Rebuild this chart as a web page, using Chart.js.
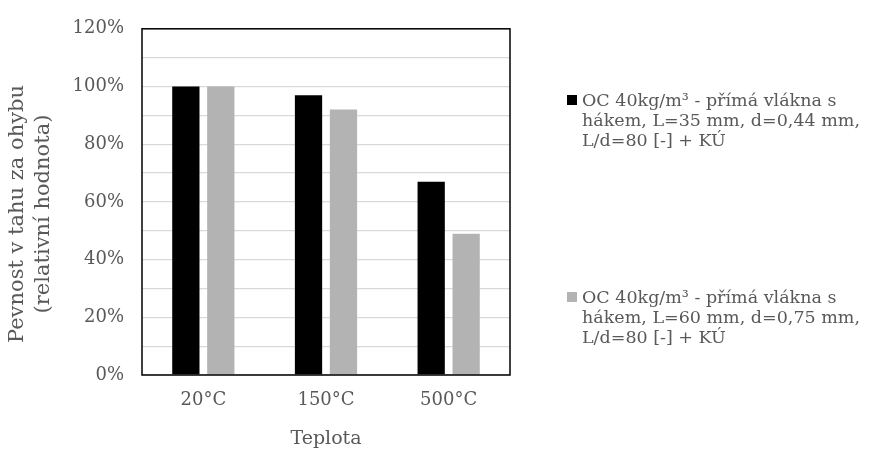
<!DOCTYPE html>
<html>
<head>
<meta charset="utf-8">
<script src="https://cdn.jsdelivr.net/npm/chart.js@4"></script>
<style>
  html, body { margin: 0; padding: 0; background: #fff; }
  #wrap { position: relative; width: 893px; height: 456px; }
  #legend { position: absolute; left: 566px; top: 0; font-family: "DejaVu Serif", serif; font-size: 17.5px; color: #595959; line-height: 20px; }
  .leg-item { position: absolute; left: 0; width: 327px; padding-left: 16px; white-space: nowrap; }
  .leg-box { position: absolute; left: 1px; top: 5px; width: 10px; height: 10px; }
</style>
</head>
<body>
<div id="wrap">
  <canvas id="chart" width="893" height="456"></canvas>
  <div id="legend"></div>
</div>
<script>
// Relative flexural tensile strength after heating
const temps = ['20°C', '150°C', '500°C'];
const fiber35 = [100, 97, 67];
const fiber60 = [100, 92, 49];
const seriesNames = [
  'OC 40kg/m³ - přímá vlákna s hákem, L=35 mm, d=0,44 mm, L/d=80 [-] + KÚ',
  'OC 40kg/m³ - přímá vlákna s hákem, L=60 mm, d=0,75 mm, L/d=80 [-] + KÚ'
];
const legendLines = [
  ['OC 40kg/m³ - přímá vlákna s', 'hákem, L=35 mm, d=0,44 mm,', 'L/d=80 [-] + KÚ'],
  ['OC 40kg/m³ - přímá vlákna s', 'hákem, L=60 mm, d=0,75 mm,', 'L/d=80 [-] + KÚ']
];
const yTitle = ['Pevnost v tahu za ohybu', '(relativní hodnota)'];
const legendTops = [90, 287];
const colors = ['#000000', '#b3b3b3'];

const FONT = '"DejaVu Serif", serif';
const TXT = '#595959';

// plot frame on all four sides
const frame = {
  id: 'frame',
  afterDatasetsDraw(chart) {
    const a = chart.chartArea, c = chart.ctx;
    c.save();
    c.strokeStyle = '#000';
    c.lineWidth = 1.5;
    c.strokeRect(a.left, a.top, a.right - a.left, a.bottom - a.top);
    c.restore();
  }
};

// rotated two-line y axis title
const yTitleDraw = {
  id: 'yTitleDraw',
  afterDraw(chart) {
    const c = chart.ctx;
    c.save();
    c.translate(0, 214);
    c.rotate(-Math.PI / 2);
    c.font = '21px ' + FONT;
    c.fillStyle = TXT;
    c.textAlign = 'center';
    c.textBaseline = 'middle';
    c.fillText(yTitle[0], 0, 18);
    c.fillText(yTitle[1], 0, 44);
    c.restore();
  }
};

const chart = new Chart(document.getElementById('chart'), {
  type: 'bar',
  data: {
    labels: temps,
    datasets: [
      { label: seriesNames[0], data: fiber35, backgroundColor: colors[0] },
      { label: seriesNames[1], data: fiber60, backgroundColor: colors[1] }
    ]
  },
  options: {
    responsive: false,
    animation: false,
    layout: { padding: { left: 0, right: 383, top: 26, bottom: 0 } },
    datasets: { bar: { categoryPercentage: 0.57, barPercentage: 0.78 } },
    plugins: { legend: { display: false }, tooltip: { enabled: false } },
    scales: {
      x: {
        grid: { display: false },
        border: { display: false },
        ticks: { color: TXT, font: { family: FONT, size: 18 }, padding: 7 },
        title: { display: true, text: 'Teplota', color: TXT, font: { family: FONT, size: 19 }, padding: { top: 10, bottom: 6 } },
        afterFit(s) { s.height = 81; }
      },
      y: {
        min: 0, max: 120,
        grid: { color: '#d9d9d9', lineWidth: 1.3, drawTicks: false },
        border: { display: false },
        ticks: {
          stepSize: 10,
          color: TXT,
          font: { family: FONT, size: 18 },
          padding: 18,
          callback: v => v % 20 === 0 ? v + '%' : ''
        },
        afterFit(s) { s.width = 142; }
      }
    }
  },
  plugins: [frame, yTitleDraw]
});

// legend on the right side
const leg = document.getElementById('legend');
legendLines.forEach((lines, i) => {
  const item = document.createElement('div');
  item.className = 'leg-item';
  item.style.top = legendTops[i] + 'px';
  item.innerHTML = `<span class="leg-box" style="background:${colors[i]}"></span>` + lines.join('<br>');
  leg.appendChild(item);
});
</script>
</body>
</html>
